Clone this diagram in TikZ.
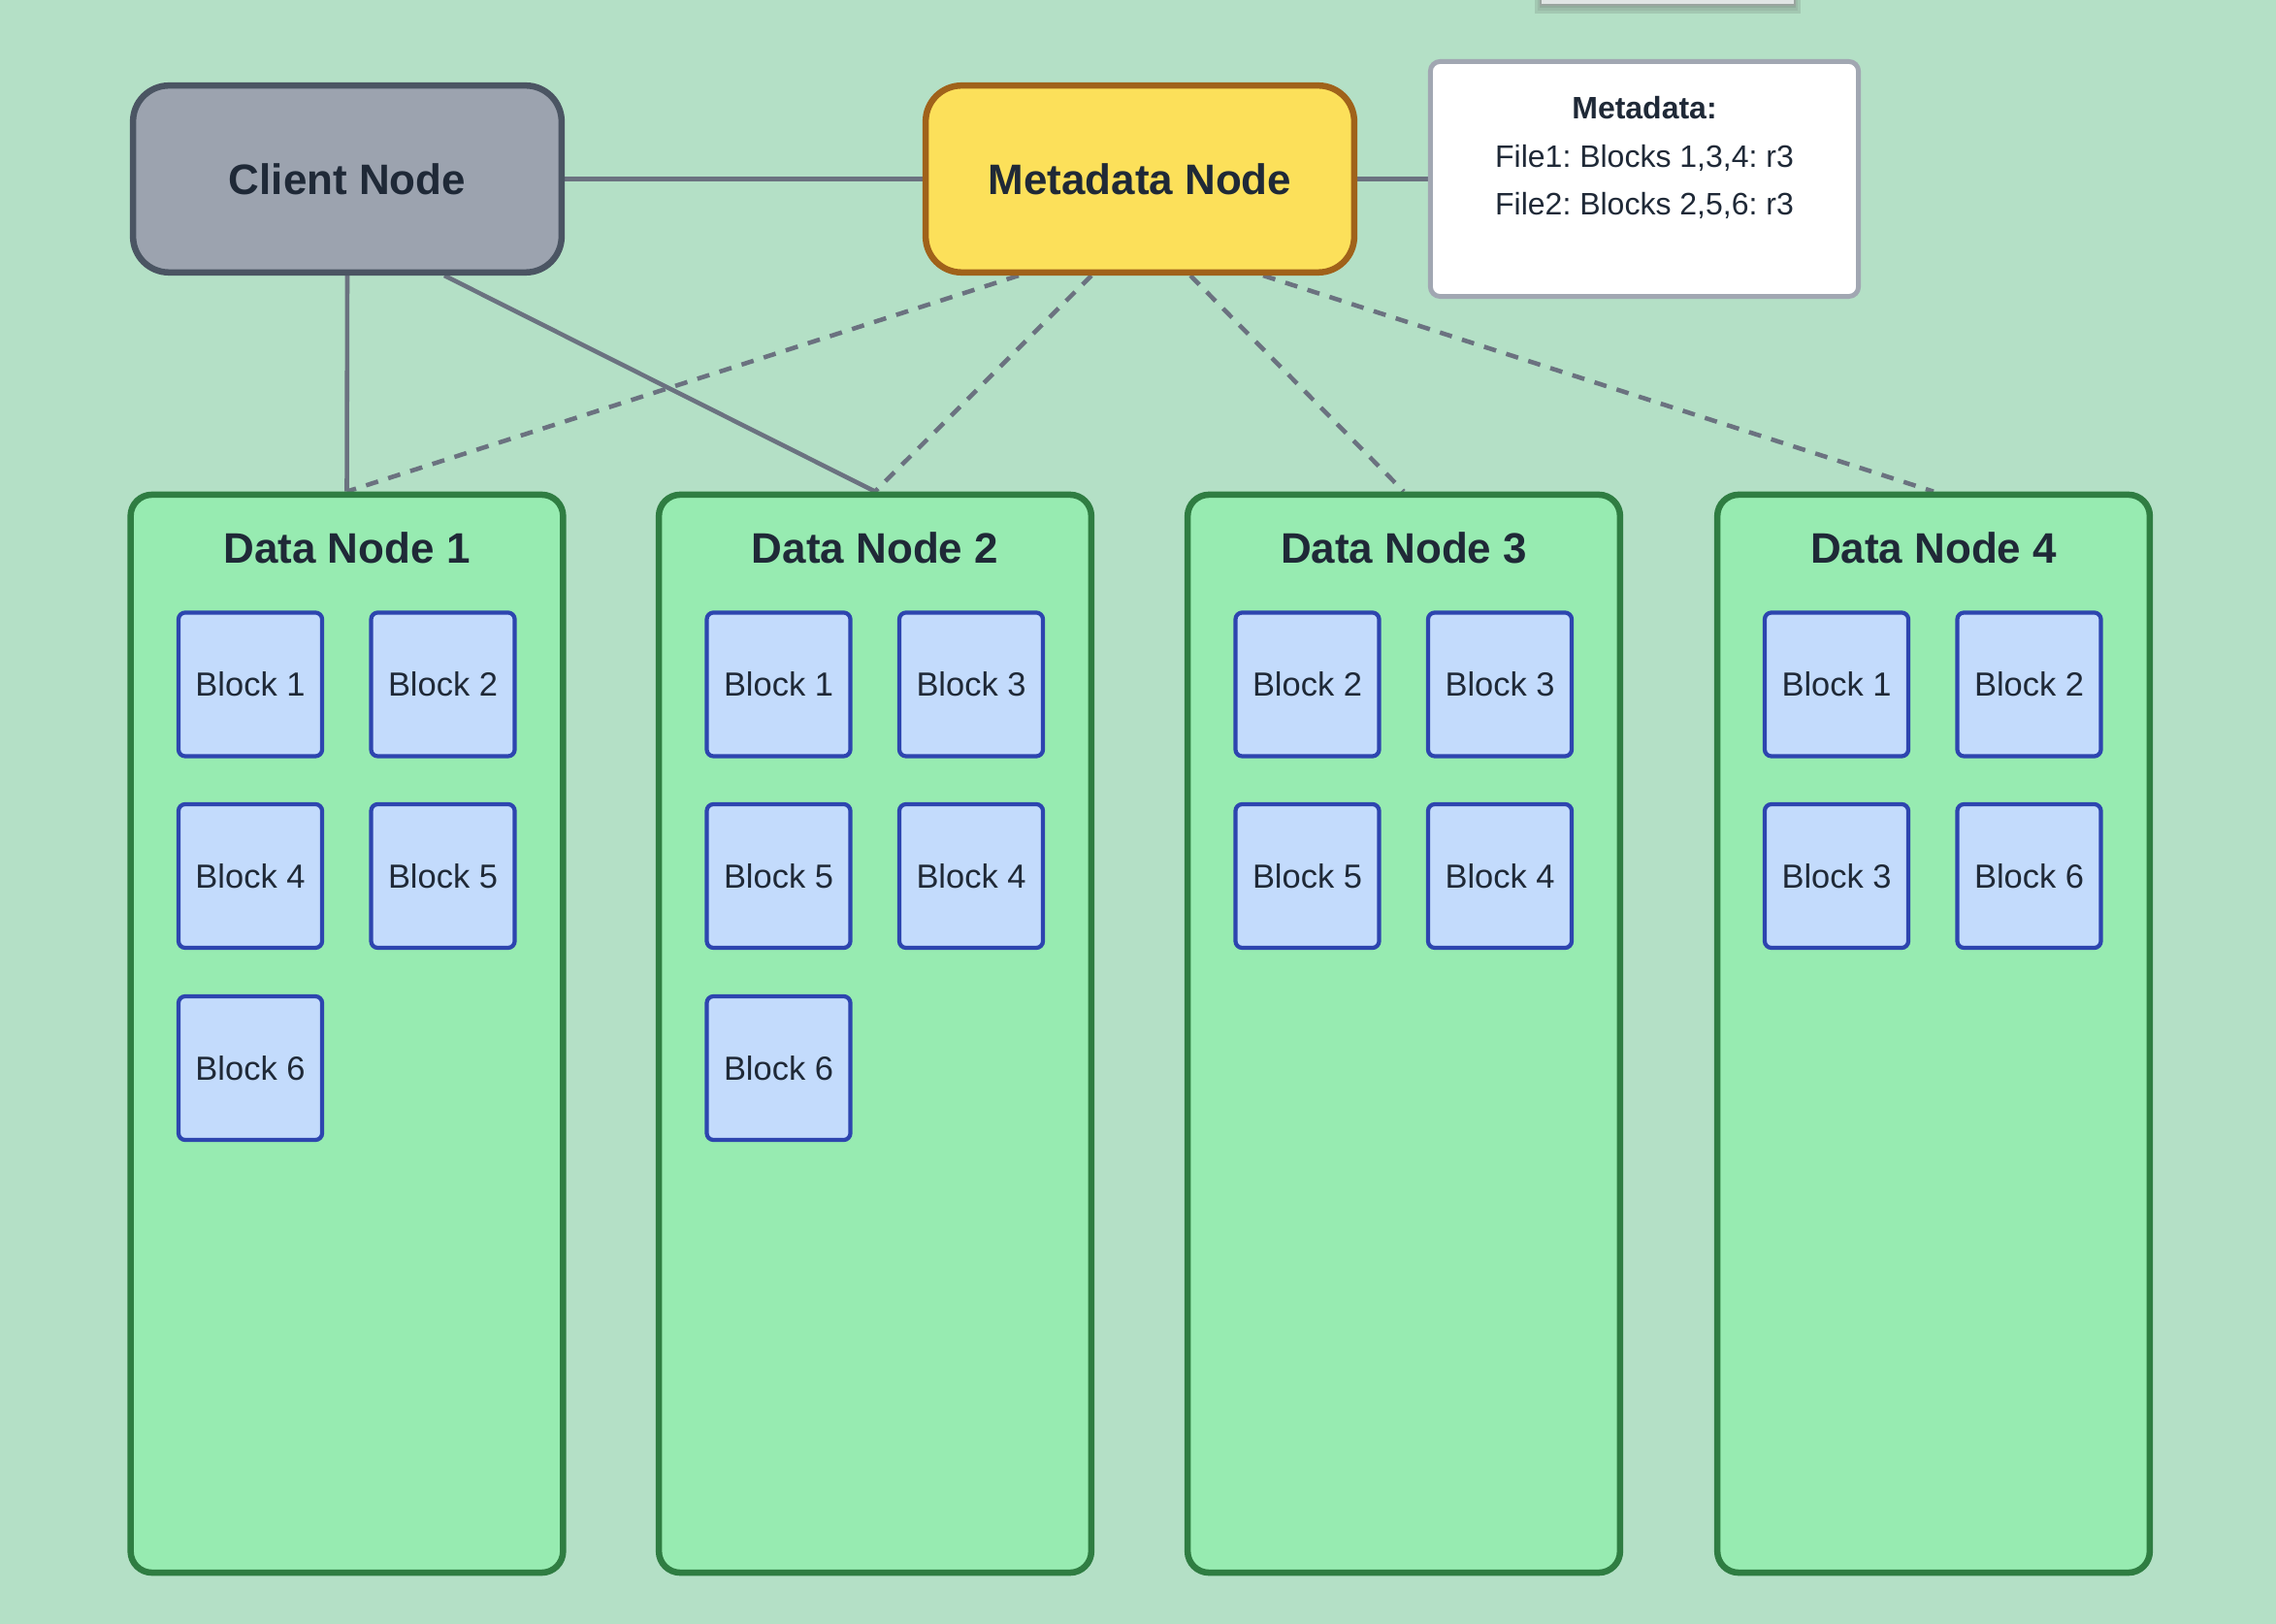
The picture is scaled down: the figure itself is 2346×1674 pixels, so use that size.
\documentclass[tikz,border=0pt]{standalone}
\usepackage{fontspec}
\setmainfont{Liberation Sans}
\frenchspacing
\definecolor{bgc}{HTML}{B4E0C6}
\definecolor{clientfill}{HTML}{9CA3AF}
\definecolor{clientborder}{HTML}{4B5563}
\definecolor{metafill}{HTML}{FCE05A}
\definecolor{metaborder}{HTML}{A0621A}
\definecolor{mboxborder}{HTML}{A1A7B2}
\definecolor{dnfill}{HTML}{97EBB1}
\definecolor{dnborder}{HTML}{2F7D42}
\definecolor{blkfill}{HTML}{C3DBFC}
\definecolor{blkborder}{HTML}{2D45AF}
\definecolor{wirec}{HTML}{6B7280}
\definecolor{txt}{HTML}{1F2937}
\definecolor{topfill}{HTML}{E0E5E4}
\definecolor{topbord}{HTML}{9AA59F}
\pgfdeclarelayer{back}
\pgfdeclarelayer{wires}
\pgfsetlayers{back,wires,main}
\begin{document}
\begin{tikzpicture}[x=0.01cm,y=-0.01cm,
  topnode/.style={draw, rounded corners=0.37cm, line width=1.85pt, minimum width=4.415cm, minimum height=1.925cm, font=\fontsize{12.5}{15}\selectfont\bfseries, text=txt, inner sep=0pt},
  clientbox/.style={topnode, fill=clientfill, draw=clientborder},
  metabox/.style={topnode, fill=metafill, draw=metaborder},
  infobox/.style={draw=mboxborder, fill=white, line width=1.4pt, rounded corners=0.1cm, minimum width=4.41cm, minimum height=2.42cm, inner sep=0pt},
  infotext/.style={font=\fontsize{9.1}{11}\selectfont, text=txt, anchor=base, inner sep=0pt},
  datanode/.style={draw=dnborder, fill=dnfill, line width=1.85pt, rounded corners=0.22cm, minimum width=4.455cm, minimum height=11.105cm, inner sep=0pt},
  dntitle/.style={font=\fontsize{12.5}{15}\selectfont\bfseries, text=txt, anchor=base, inner sep=0pt},
  blk/.style={draw=blkborder, fill=blkfill, line width=1.2pt, rounded corners=0.07cm, minimum width=1.48cm, minimum height=1.48cm, inner sep=0pt, font=\fontsize{9.8}{12}\selectfont, text=txt},
  wire/.style={draw=wirec, line width=1.3pt},
  dashwire/.style={wire, dash pattern=on 3.7pt off 3.1pt}
]
\useasboundingbox (0,0) rectangle (2346,1674);
\begin{pgfonlayer}{back}
\fill[bgc] (0,0) rectangle (2346,1674);
% soft shadow under the top bar
\fill[bgc!88!black!95] (1582,-10) rectangle (1856,14);
\fill[bgc!80!black!90] (1585,-10) rectangle (1853,11);
\fill[bgc!70!black!85] (1587,-10) rectangle (1851,8);
\end{pgfonlayer}

% top bar (partially off the page)
\node[draw=topbord, fill=topfill, line width=0.5pt, minimum width=2.62cm, minimum height=0.4cm, anchor=south, inner sep=0pt] (topbar) at (1719,6) {};

% top row
\node[clientbox] (client) at (358,184.5) {Client Node};
\node[metabox] (meta) at (1175,184.5) {Metadata Node};
\node[infobox] (mbox) at (1695,184.5) {};
\node[infotext, font=\fontsize{9.1}{11}\selectfont\bfseries] (mtitle) at (1695,123) {Metadata:};
\node[infotext] (mline1) at (1695,173) {File1: Blocks 1,3,4: r3};
\node[infotext] (mline2) at (1695,222) {File2: Blocks 2,5,6: r3};

% data nodes
\node[datanode] (dn1) at (357.5,1065.5) {};
\node[datanode] (dn2) at (902,1065.5) {};
\node[datanode] (dn3) at (1447,1065.5) {};
\node[datanode] (dn4) at (1993,1065.5) {};

\node[dntitle] (dn1t) at (357.5,581) {Data Node 1};
\node[dntitle] (dn2t) at (902,581) {Data Node 2};
\node[dntitle] (dn3t) at (1447,581) {Data Node 3};
\node[dntitle] (dn4t) at (1993,581) {Data Node 4};

% blocks of data node 1
\node[blk] (d1a) at (258,705.5) {Block 1};
\node[blk] (d1b) at (456.5,705.5) {Block 2};
\node[blk] (d1c) at (258,903) {Block 4};
\node[blk] (d1d) at (456.5,903) {Block 5};
\node[blk] (d1e) at (258,1101) {Block 6};
% blocks of data node 2
\node[blk] (d2a) at (802.5,705.5) {Block 1};
\node[blk] (d2b) at (1001,705.5) {Block 3};
\node[blk] (d2c) at (802.5,903) {Block 5};
\node[blk] (d2d) at (1001,903) {Block 4};
\node[blk] (d2e) at (802.5,1101) {Block 6};
% blocks of data node 3
\node[blk] (d3a) at (1347.5,705.5) {Block 2};
\node[blk] (d3b) at (1546,705.5) {Block 3};
\node[blk] (d3c) at (1347.5,903) {Block 5};
\node[blk] (d3d) at (1546,903) {Block 4};
% blocks of data node 4
\node[blk] (d4a) at (1893,705.5) {Block 1};
\node[blk] (d4b) at (2091.5,705.5) {Block 2};
\node[blk] (d4c) at (1893,903) {Block 3};
\node[blk] (d4d) at (2091.5,903) {Block 6};

% connectors
\begin{pgfonlayer}{wires}
\draw[wire] (client) -- (meta);
\draw[wire] (meta) -- (mbox);
\draw[wire] (client.south) -- (dn1.north);
\draw[wire] ([xshift=1cm]client.south) -- (dn2.north);
\draw[dashwire] ([xshift=-1.25cm]meta.south) -- (dn1.north);
\draw[dashwire] ([xshift=-0.5cm]meta.south) -- (dn2.north);
\draw[dashwire] ([xshift=0.52cm]meta.south) -- (dn3.north);
\draw[dashwire] ([xshift=1.27cm]meta.south) -- (dn4.north);
\end{pgfonlayer}
\end{tikzpicture}
\end{document}
